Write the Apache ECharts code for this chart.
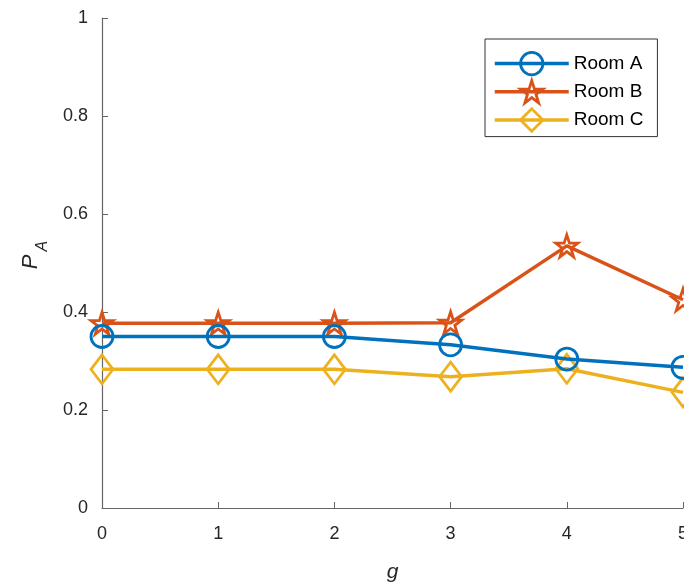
<!DOCTYPE html>
<html><head><meta charset="utf-8">
<script src="https://cdn.jsdelivr.net/npm/echarts@6/dist/echarts.min.js"></script>
<style>html,body{margin:0;padding:0;background:#fff}#c{width:684px;height:588px}</style>
</head><body><div id="c"></div>
<script>
const gValues = [0, 1, 2, 3, 4, 5];
const roomA = [0.35, 0.35, 0.35, 0.333, 0.304, 0.287];
const roomB = [0.377, 0.377, 0.377, 0.378, 0.535, 0.425];
const roomC = [0.283, 0.283, 0.283, 0.268, 0.284, 0.236];
const seriesNames = ['Room A', 'Room B', 'Room C'];
const colors = ['#0072BD', '#D95319', '#EDB120'];
const starPath = 'path://M12,0 L14.9,8.5 L24,8.5 L16.6,13.9 L19.4,22.5 L12,17.1 L4.6,22.5 L7.4,13.9 L0,8.5 L9.1,8.5 Z';
const symbols = ['circle', starPath, 'diamond'];
const symbolSizes = [22, 22, [22, 29]];
const allData = [roomA, roomB, roomC];

const chart = echarts.init(document.getElementById('c'));
const font = 'Liberation Sans, Arial, sans-serif';
chart.setOption({
  animation: false,
  backgroundColor: '#fff',
  grid: { left: 102, right: 1, top: 18, bottom: 80, containLabel: false, outerBoundsMode: 'none' },
  legend: {
    orient: 'vertical', left: 485, top: 39,
    padding: [12, 14, 4, 8], itemGap: 3,
    itemWidth: 74, itemHeight: 28,
    backgroundColor: '#fff', borderColor: '#333', borderWidth: 1, borderRadius: 0,
    lineStyle: { width: 3.5 },
    itemStyle: { borderWidth: 2.8 },
    textStyle: { fontFamily: font, fontSize: 19, color: '#000' },
    data: seriesNames
  },
  xAxis: {
    type: 'value', min: 0, max: 5, interval: 1,
    name: 'g', nameLocation: 'middle', nameGap: 54,
    nameTextStyle: { fontFamily: font, fontSize: 21, fontStyle: 'italic', color: '#262626' },
    axisLine: { lineStyle: { color: '#666', width: 1.2 } },
    axisTick: { inside: true, length: 6, lineStyle: { color: '#666' } },
    axisLabel: { margin: 17, fontFamily: font, fontSize: 18, color: '#262626', showMaxLabel: true },
    splitLine: { show: false }
  },
  yAxis: {
    type: 'value', min: 0, max: 1, interval: 0.2,
    name: '{p|P}{s|A}', nameLocation: 'middle', nameGap: 60, nameRotate: 90,
    nameTextStyle: { padding: [0, 0, 0, 16], rich: {
      p: { fontFamily: font, fontSize: 22, fontStyle: 'italic', color: '#262626' },
      s: { fontFamily: font, fontSize: 16, fontStyle: 'italic', color: '#262626', verticalAlign: 'bottom', padding: [0,0,-9,3] }
    } },
    axisLine: { show: true, lineStyle: { color: '#666', width: 1.2 } },
    axisTick: { show: true, inside: true, length: 6, lineStyle: { color: '#666' } },
    axisLabel: { margin: 14, fontFamily: font, fontSize: 18, color: '#262626',
      formatter: v => (Math.round(v * 10) / 10).toString() },
    splitLine: { show: false }
  },
  series: seriesNames.map((n, i) => ({
    name: n, type: 'line', clip: false,
    data: gValues.map((g, j) => [g, allData[i][j]]),
    symbol: symbols[i], symbolSize: symbolSizes[i],
    lineStyle: { color: colors[i], width: 3.5 },
    itemStyle: { color: 'rgba(255,255,255,0)', borderColor: colors[i], borderWidth: 2.8 },
    z: 3 - i
  }))
});
</script></body></html>
